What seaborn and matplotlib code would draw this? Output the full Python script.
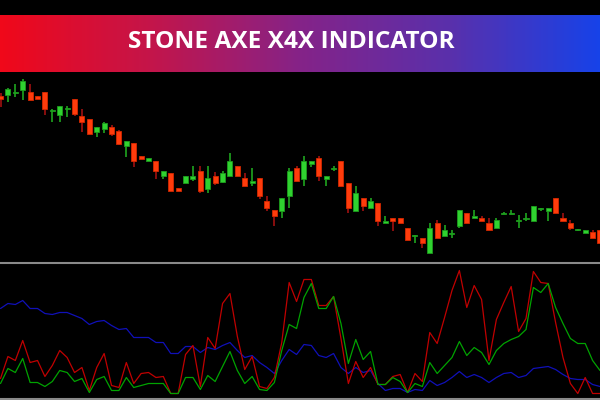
import numpy as np
import pandas as pd
import matplotlib
matplotlib.use("Agg")
import matplotlib.pyplot as plt
from matplotlib.colors import LinearSegmentedColormap
import seaborn as sns

title = "STONE AXE X4X INDICATOR"

# ---- price candles (82 bars) ----
opens = [204, 205, 207.5, 210, 208, 204, 208, 189, 185, 191, 201, 184, 181, 168, 171, 173, 169, 154, 157, 144,
         139, 139, 124, 127, 112, 117, 121, 129, 111, 124, 118, 124, 134, 122, 117, 122, 99, 90, 89, 104,
         132, 121, 136, 142, 121, 131.5, 139, 117, 89, 102, 92, 97, 77, 82, 82, 72, 64, 62, 47, 77,
         64, 66.5, 74, 87, 82, 82, 77, 72, 86.5, 86.5, 79.5, 81.5, 79, 91, 89, 102, 82, 77, 70, 67,
         68, 70]
closes = [201, 211, 208, 219, 200, 201, 191, 189.5, 194, 191.5, 186, 178, 166, 173, 177, 166, 156, 159, 139, 141,
          142, 129, 129, 109, 109, 124, 124, 109, 122, 117, 127, 139, 124, 114, 119, 104, 92, 84, 102, 129,
          119, 139, 139, 124, 124, 132, 114, 92, 107, 94, 99, 79, 79, 79, 77, 60, 64.5, 57, 72, 62,
          70, 67, 90, 77, 84, 79, 70, 80, 87, 87, 80, 82, 94, 92, 92, 87, 79, 72, 70.5, 70,
          62, 57]
highs = [207, 212, 216, 221, 216, 204, 208, 191, 194, 194, 201, 191, 181, 173, 178, 175, 170, 159, 157, 144,
         142, 139, 129, 127, 112, 124, 134, 134, 134, 128, 129, 147, 134, 127, 132, 122, 104, 90, 102, 132,
         134, 144, 139, 144, 124, 134, 139, 117, 114, 102, 102, 97, 84, 82, 82, 72, 65, 62, 77, 80,
         75, 70, 90, 87, 90, 84, 82, 82, 88, 90, 85, 87, 94, 92, 92, 102, 87, 80, 71, 70,
         70, 70]
lows = [193, 198, 203, 200, 200, 201, 185, 178, 178, 183, 184, 168, 166, 163, 167, 164, 155, 143, 133, 141,
        139, 121, 121, 109, 109, 117, 119, 107, 107, 115, 117, 124, 124, 114, 114, 101, 89, 74, 82, 92,
        119, 114, 133, 119, 114, 129, 114, 87, 89, 89, 92, 74, 77, 69, 77, 60, 57, 52, 47, 62,
        64, 62, 72, 77, 82, 79, 70, 72, 86, 86.5, 72, 79, 79, 89, 79, 87, 79, 70, 69, 67,
        62, 57]

# ---- indicator lines ----
red_line = [15, 37, 33, 53, 31, 33, 17, 28, 43, 36, 21, 26, 3, 26, 40, 8, 6, 31, 10, 20,
            21, 16, 17, 0, 0, 39, 48, 7, 56, 45, 90, 100, 57, 24, 37, 7, 5, 16, 51, 111,
            92, 114, 114, 88, 88, 97, 55, 10, 32, 16, 26, 9, 9, 17, 19, 1, 20, 12, 61, 50,
            76, 103, 123, 86, 108, 94, 33, 74, 91, 107, 62, 75, 122, 111, 110, 71, 36, 10, 0, 16,
            0, 0]
green_line = [10, 25, 21, 35, 11, 11, 7, 12, 23, 21, 12, 15, 1, 14, 17, 3, 3, 16, 6, 8,
              10, 10, 10, 0, 0, 16, 16, 4, 18, 12, 27, 42, 23, 10, 17, 4, 3, 11, 43, 69,
              65, 96, 110, 85, 85, 97, 70, 30, 54, 34, 42, 9, 9, 16, 12, 1, 10, 7, 31, 20,
              28, 36, 52, 38, 46, 41, 29, 43, 50, 54, 57, 64, 106, 101, 110, 86, 70, 55, 50, 50,
              33, 23]
blue_line = [85, 90, 89, 93, 85, 85, 80, 79, 81, 81, 78, 75, 69, 72, 73, 68, 64, 65, 56, 56,
             56, 51, 51, 40, 40, 47, 47, 41, 46, 44, 48, 51, 43, 36, 38, 31, 26, 20, 33, 44,
             39, 49, 48, 38, 36, 40, 26, 20, 26, 21, 23, 10, 3, 5, 5, 1, 4, 3, 13, 8,
             11, 16, 22, 16, 19, 16, 11, 16, 20, 21, 16, 18, 25, 26, 27, 24, 19, 15, 14, 14,
             9, 7]

n = len(opens)
idx = np.arange(n)
df = pd.DataFrame({"bar": idx, "open": opens, "close": closes, "high": highs, "low": lows})
ind = pd.DataFrame({"bar": idx, "red": red_line, "green": green_line, "blue": blue_line})

sns.set_theme(style="dark", rc={"axes.facecolor": "black", "figure.facecolor": "black"})

fig = plt.figure(figsize=(6, 4), dpi=100)
fig.patch.set_facecolor("black")

# banner
axb = fig.add_axes([0, 1 - 72 / 400, 1, 57 / 400])
cmap = LinearSegmentedColormap.from_list("ban", ["#f0081a", "#c4154a", "#852388", "#5a30ab", "#1742e8"])
grad = np.linspace(0, 1, 600).reshape(1, -1)
axb.imshow(grad, aspect="auto", cmap=cmap, extent=[0, 1, 0, 1])
axb.set_xlim(0, 1)
axb.set_ylim(0, 1)
axb.axis("off")
axb.text(0.485, 0.52, title, ha="center", va="center", color="white",
         fontsize=17.6, fontweight="bold", family=["Open Sans", "DejaVu Sans"])

# price panel
axp = fig.add_axes([0, 1 - 261 / 400, 1, 189 / 400])
axp.set_facecolor("black")
up = df["close"] >= df["open"]
body_bot = np.minimum(df["open"], df["close"])
body_h = np.maximum(np.abs(df["close"] - df["open"]), 1.0)
wick_col = np.where(up, "#1fa51f", "#a01010")
axp.vlines(df["bar"], df["low"], df["high"], colors=wick_col, linewidth=1.2, zorder=1)
axp.bar(df["bar"], body_h, bottom=body_bot, width=0.68,
        color=np.where(up, "#30d230", "#ff3c0c"),
        edgecolor=np.where(up, "#1c9c1c", "#d42800"), linewidth=0.6, zorder=2)
axp.set_xlim(-0.07, 81.0)
axp.set_ylim(39, 228)
axp.axis("off")

# indicator panel
axi = fig.add_axes([0, 1.5 / 400, 1, 136 / 400])
axi.set_facecolor("black")
sns.lineplot(data=ind, x="bar", y="blue", ax=axi, color="#1010b8", linewidth=0.9)
sns.lineplot(data=ind, x="bar", y="red", ax=axi, color="#c00000", linewidth=0.9)
sns.lineplot(data=ind, x="bar", y="green", ax=axi, color="#00a300", linewidth=0.9)
axi.set_xlim(-0.07, 81.0)
axi.set_ylim(-5, 131)
axi.set_xticks([])
axi.set_yticks([])
axi.set_xlabel("")
axi.set_ylabel("")
for s in ["left", "right"]:
    axi.spines[s].set_visible(False)
for s in ["top", "bottom"]:
    axi.spines[s].set_visible(True)
    axi.spines[s].set_color("#8a8a8a")
    axi.spines[s].set_linewidth(1.5)

fig.savefig("out.png", dpi=100, facecolor="black")
